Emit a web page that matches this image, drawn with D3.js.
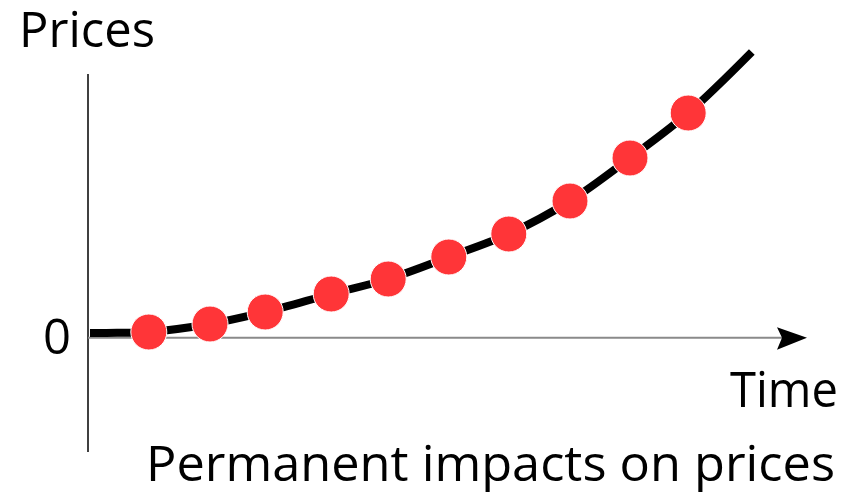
<!DOCTYPE html>
<html>
<head>
<meta charset="utf-8">
<script src="https://cdn.jsdelivr.net/npm/d3@7"></script>
<style>
  html, body { margin: 0; padding: 0; background: #fff; }
  svg { display: block; }
  text { font-family: "Open Sans", "Noto Sans", sans-serif; fill: #000; }
</style>
</head>
<body>
<svg id="chart" width="857" height="492"></svg>
<script>
// Time steps at which the price is observed, and the price level at each step
const times  = [0.98, 2.0, 2.92, 4.02, 4.97, 5.98, 6.98, 8.0, 9.0, 9.97];
const prices = [0.5, 1.3, 2.5, 4.3, 5.8, 8.0, 10.3, 13.6, 17.9, 22.4];

// Path of the price curve: flat start at the origin, through the observations, on upward
const curveTimes  = [0, 0.45, ...times, 11.03];
const curvePrices = [0.4, 0.42, ...prices, 28.5];

// Axis labels
const yLabel = "Prices";
const xLabel = "Time";
const zeroLabel = "0";
const caption = "Permanent impacts on prices";

const svg = d3.select("#chart");

const x = d3.scaleLinear().domain([0, 12]).range([90, 810]);
const y = d3.scaleLinear().domain([-11.5, 26.3]).range([452, 74]);

// Vertical axis
svg.append("line")
  .attr("x1", 88).attr("x2", 88)
  .attr("y1", y(26.3)).attr("y2", y(-11.5))
  .attr("stroke", "#000").attr("stroke-width", 1.5);

// Horizontal axis at price zero, ending in an arrow
const y0 = y(0) + 0.7;
svg.append("line")
  .attr("x1", 88).attr("x2", 785)
  .attr("y1", y0).attr("y2", y0)
  .attr("stroke", "#8a8a8a").attr("stroke-width", 2);

const tip = x(11.95);
svg.append("path")
  .attr("d", `M${tip},${y0} L${tip - 30},${y0 - 10.5} L${tip - 25},${y0} L${tip - 30},${y0 + 12} Z`)
  .attr("fill", "#000");

// Price curve
const line = d3.line()
  .x((d, i) => x(curveTimes[i]))
  .y(d => y(d))
  .curve(d3.curveCatmullRom.alpha(0.5));

svg.append("path")
  .datum(curvePrices)
  .attr("d", line)
  .attr("fill", "none")
  .attr("stroke", "#000")
  .attr("stroke-width", 8)
  .attr("stroke-linecap", "butt");

// Observation dots
svg.selectAll("circle.obs")
  .data(prices)
  .join("circle")
  .attr("class", "obs")
  .attr("cx", (d, i) => x(times[i]))
  .attr("cy", d => y(d))
  .attr("r", 18)
  .attr("fill", "#ff3538")
  .attr("stroke", "#fff")
  .attr("stroke-width", 1);

// Labels
function label(txt, px, py, size, len) {
  svg.append("text")
    .attr("x", px).attr("y", py)
    .attr("font-size", size)
    .attr("textLength", len)
    .attr("lengthAdjust", "spacingAndGlyphs")
    .text(txt);
}
label(yLabel, 19, 47, 49, 136);
label(zeroLabel, 43, 354, 49, 28);
label(xLabel, 730, 407, 49, 108);
label(caption, 146, 481, 49, 689);
</script>
</body>
</html>
